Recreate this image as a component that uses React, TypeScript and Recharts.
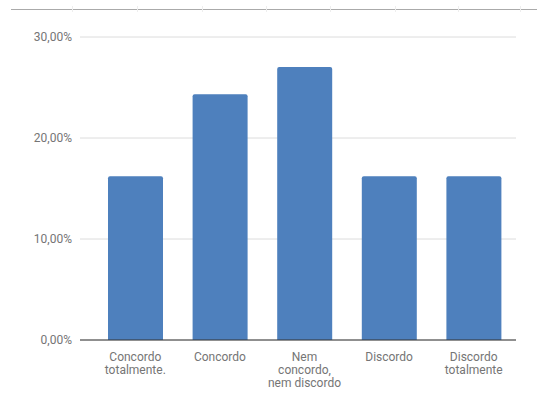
import React from 'react';
import { BarChart, Bar, XAxis, YAxis, CartesianGrid } from 'recharts';

// Respostas (proporção de respondentes)
const categories = [
  'Concordo totalmente.',
  'Concordo',
  'Nem concordo, nem discordo',
  'Discordo',
  'Discordo totalmente',
];
const categoryLines = [
  ['Concordo', 'totalmente.'],
  ['Concordo'],
  ['Nem', 'concordo,', 'nem discordo'],
  ['Discordo'],
  ['Discordo', 'totalmente'],
];
const values = [0.1622, 0.2432, 0.2703, 0.1622, 0.1622];
const yTicks = [0, 0.1, 0.2, 0.3];
const topTickXs = [72, 137, 202, 266, 330, 395, 458, 520];

const data = categories.map((name, i) => ({ name, value: values[i], idx: i }));

const fmtPct = (v: number) => (v * 100).toFixed(2).replace('.', ',') + '%';

const XTick = (props: any) => {
  const { x, y, index } = props;
  const lines = categoryLines[index] || [];
  return (
    <g transform={`translate(${x},${y})`}>
      {lines.map((l, i) => (
        <text
          key={i}
          x={0}
          y={13 + i * 13}
          textAnchor="middle"
          fill="#757575"
          fontSize={12}
          fontFamily="Roboto, sans-serif"
        >
          {l}
        </text>
      ))}
    </g>
  );
};

export default function App() {
  return (
    <div style={{ position: 'absolute', left: 0, top: 0, width: 537, height: 401, background: '#fff' }}>
      <div style={{ position: 'absolute', left: 11, top: 9, width: 526, height: 1, background: '#aaa' }} />
      {topTickXs.map((x) => (
        <div key={x} style={{ position: 'absolute', left: x, top: 6, width: 1, height: 6, background: '#eee' }} />
      ))}
      <BarChart
        width={537}
        height={401}
        data={data}
        margin={{ top: 37, right: 21, left: 0, bottom: 11 }}
        barCategoryGap={0}
      >
        <CartesianGrid vertical={false} stroke="#dcdcdc" />
        <XAxis
          dataKey="name"
          interval={0}
          height={50}
          tickLine={false}
          axisLine={{ stroke: '#333' }}
          padding={{ left: 13, right: 0 }}
          tick={<XTick />}
        />
        <YAxis
          domain={[0, 0.3]}
          ticks={yTicks}
          width={80}
          tickLine={false}
          axisLine={false}
          tickFormatter={fmtPct}
          tick={{ fill: '#757575', fontSize: 12, fontFamily: 'Roboto, sans-serif' }}
        />
        <Bar dataKey="value" fill="#4e80bd" barSize={55} radius={[2, 2, 0, 0]} isAnimationActive={false} />
      </BarChart>
    </div>
  );
}
